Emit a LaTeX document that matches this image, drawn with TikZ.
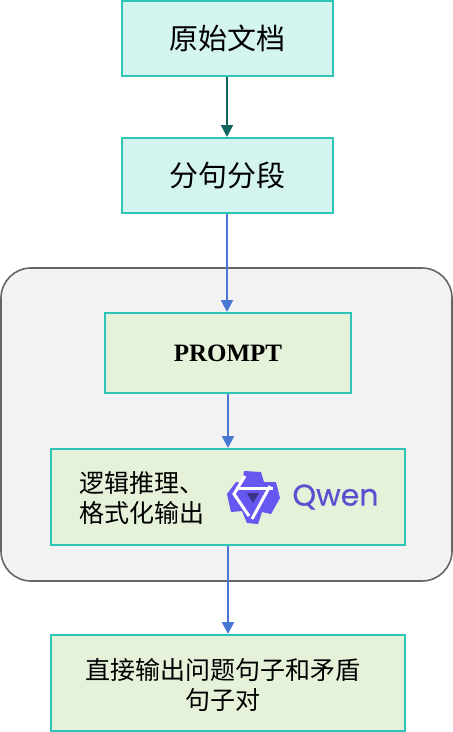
\documentclass[tikz,border=0pt]{standalone}
\usepackage{fontspec}
\setmainfont{Liberation Serif}
\newfontfamily\cjk{Noto Sans CJK SC}
\newfontfamily\logofont[FakeBold=0.5]{Poppins}
\usetikzlibrary{arrows.meta,positioning}
\definecolor{tealline}{HTML}{2EC4B6}
\definecolor{tealfill}{HTML}{D3F4EF}
\definecolor{greenfill}{HTML}{E5F1D9}
\definecolor{darkarrow}{HTML}{156660}
\definecolor{bluearrow}{HTML}{4A77D4}
\definecolor{qwenblue}{HTML}{5B4FD0}
\definecolor{logoblue}{HTML}{6657F0}
\begin{document}
\begin{tikzpicture}[
			x=1pt, y=1pt,
			box/.style={draw=tealline, line width=2pt, rectangle, inner sep=0pt},
			tealbox/.style={box, fill=tealfill, minimum width=211pt, minimum height=75pt, font=\cjk\fontsize{29}{34}\selectfont},
			greenbox/.style={box, fill=greenfill, minimum width=354pt, minimum height=96pt},
			stage/.style={font=\cjk\fontsize{25}{30}\selectfont, inner sep=0pt},
			link/.style={line width=2pt, bluearrow, -{Triangle[length=12pt,width=12pt]}}
			]
			\useasboundingbox (0,0) rectangle (453,-732);
			\node[draw=black!60, line width=1.6pt, fill=black!5, rounded corners=30pt, minimum width=451pt, minimum height=313pt] (panel) at (226.5,-424.5) {};
			\node[tealbox] (source) at (227,-38) {原始文档};
			\node[tealbox] (split) at (227,-175.5) {分句分段};
			\node[box, fill=greenfill, minimum width=246pt, minimum height=80pt, font=\bfseries\fontsize{25}{30}\selectfont] (prompt) at (228,-353) {PROMPT};
			\node[greenbox] (reason) at (228,-497) {};
			\node[stage, align=left, anchor=west] (reasontext) at (79,-498) {逻辑推理、\\格式化输出};
			\node[font=\logofont\fontsize{30}{34}\selectfont, text=qwenblue, inner sep=0pt] (qwen) at (335.5,-497) {Qwen};
			\node[greenbox] (answer) at (228,-683) {};
			\node[stage, align=center] (answertext) at (223,-685) {直接输出问题句子和矛盾\\句子对};
			% logo
			\begin{scope}[shift={(253,-497)}]
				\fill[logoblue] (-9,26) -- (8,25) -- (11,15) -- (23,15) -- (27,-1) -- (18,-17) -- (9,-15) -- (5,-27) -- (-6,-26) -- (-11,-14) -- (-22,-15) -- (-26,3) -- (-17,15) -- (-11,14) -- cycle;
				\draw[white, line width=3pt] (-8,21) -- (-19,3) -- (-4,-19);
				\draw[white, line width=3pt] (-17,9) -- (20,9);
				\draw[white, line width=3pt] (17,11) -- (-1,-22);
				\fill[qwenblue!65!black] (-6,4) -- (6,4) -- (0,-6) -- cycle;
			\end{scope}
			\draw[line width=2pt, darkarrow, -{Triangle[length=12pt,width=12pt]}] (source) -- (split);
			\draw[link] (split.south) -- (prompt.north -| split.south);
			\draw[link] (prompt) -- (reason);
			\draw[link] (reason) -- (answer);
		\end{tikzpicture}
\end{document}
